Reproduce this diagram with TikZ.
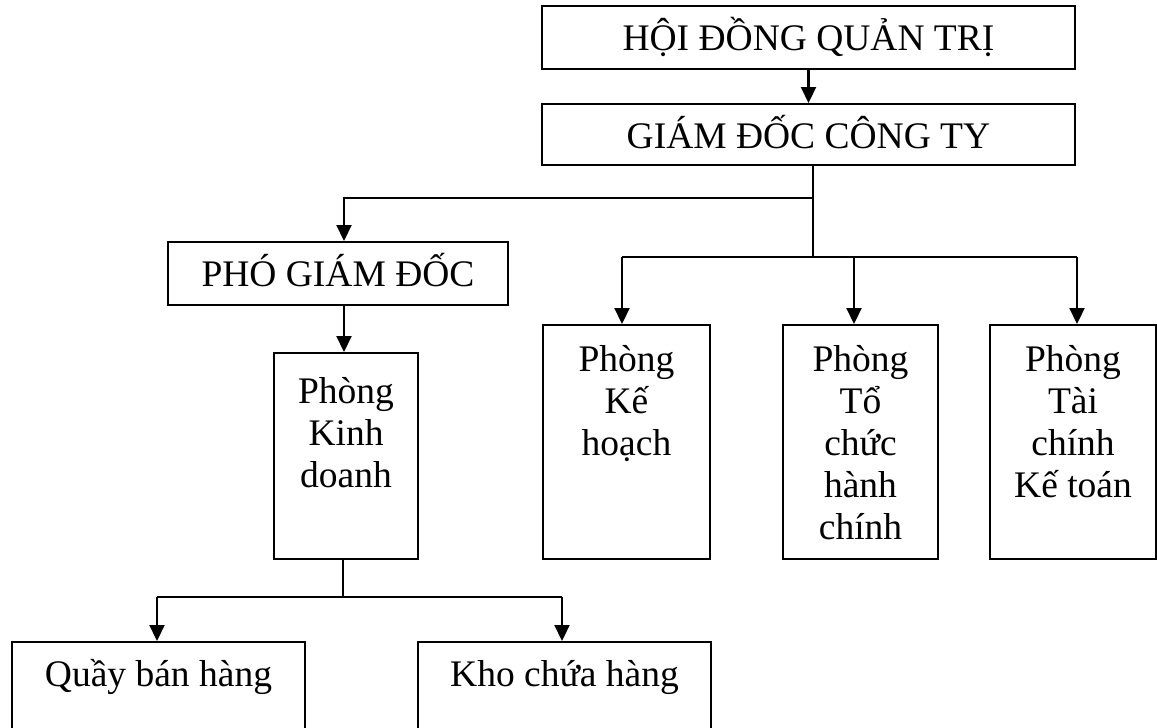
\documentclass[tikz,border=0pt]{standalone}
\usepackage{fontspec}
\setmainfont{Liberation Serif}
\usetikzlibrary{arrows.meta}
% strut that fixes the height of a first text line
\newcommand{\firstline}{\rule{0pt}{36pt}}
% label font with a fixed line pitch
\newcommand{\lblfont}{\fontsize{37.5}{42}\selectfont\lineskiplimit=-100pt\relax}
\begin{document}
\begin{tikzpicture}[x=1pt,y=-1pt,
  box/.style={draw=black, line width=2pt, inner sep=0pt, anchor=north west},
  lbl/.style={inner sep=0pt, anchor=north, align=center, font=\lblfont},
  one/.style={lbl, yshift=-9pt},
  many/.style={lbl, yshift=-11pt},
  link/.style={line width=2.2pt},
  arr/.style={link, -{Triangle[length=16pt,width=15pt]}}]
\useasboundingbox (0,0) rectangle (1157,728);
\clip (0,0) rectangle (1157,728);
\fill[white] (0,0) rectangle (1157,728);

% boxes
\node[box, minimum width=533pt, minimum height=63pt]  (hdqt) at (541,5)   {};
\node[box, minimum width=533pt, minimum height=61pt]  (gdct) at (541,103) {};
\node[box, minimum width=340pt, minimum height=63pt]  (pgd)  at (167,241) {};
\node[box, minimum width=144pt, minimum height=206pt] (pkd)  at (273,352) {};
\node[box, minimum width=167pt, minimum height=234pt] (kh)   at (542,324) {};
\node[box, minimum width=155pt, minimum height=234pt] (tc)   at (782,324) {};
\node[box, minimum width=166pt, minimum height=234pt] (tckt) at (989,324) {};
\node[box, minimum width=293pt, minimum height=130pt] (quay) at (11,641)  {};
\node[box, minimum width=293pt, minimum height=130pt] (kho)  at (417,641) {};

% labels, first baseline a fixed distance below the top edge of each box
\node[one]  (thdqt) at (hdqt.north) {\firstline HỘI ĐỒNG QUẢN TRỊ};
\node[one]  (tgdct) at (gdct.north) {\firstline GIÁM ĐỐC CÔNG TY};
\node[one]  (tpgd)  at (pgd.north)  {\firstline PHÓ GIÁM ĐỐC};
\node[many, yshift=-4pt] (tpkd) at (pkd.north) {\firstline Phòng\\Kinh\\doanh};
\node[many] (tkh)   at (kh.north)   {\firstline Phòng\\Kế\\hoạch};
\node[many] (ttc)   at (tc.north)   {\firstline Phòng\\Tổ\\chức\\hành\\chính};
\node[many] (ttckt) at (tckt.north) {\firstline Phòng\\Tài\\chính\\Kế toán};
\node[one]  (tquay) at (quay.north) {\firstline Quầy bán hàng};
\node[one]  (tkho)  at (kho.north)  {\firstline Kho chứa hàng};

% junction points
\coordinate (trunk) at (813,164);
\coordinate (jl) at (813,198);
\coordinate (jr) at (813,257);
\coordinate (bl) at (622,257);
\coordinate (bm) at (854,257);
\coordinate (br) at (1077,257);
\coordinate (jb) at (343,597);
\coordinate (qa) at (157,597);
\coordinate (ka) at (562,597);

% connectors
\draw[arr] (hdqt.south) -- (gdct.north);
\draw[link] (trunk) -- (jr);
\draw[arr] (jl) -| ([xshift=6pt]pgd.north);
\draw[link] (bl) -- (br);
\draw[arr] (bl) -- (bl |- kh.north);
\draw[arr] (bm) -- (bm |- tc.north);
\draw[arr] (br) -- (br |- tckt.north);
\draw[arr] ([xshift=6pt]pgd.south) -- ([xshift=6pt]pgd.south |- pkd.north);
\draw[link] (jb |- pkd.south) -- (jb);
\draw[link] (qa) -- (ka);
\draw[arr] (qa) -- (qa |- quay.north);
\draw[arr] (ka) -- (ka |- kho.north);
\end{tikzpicture}
\end{document}
